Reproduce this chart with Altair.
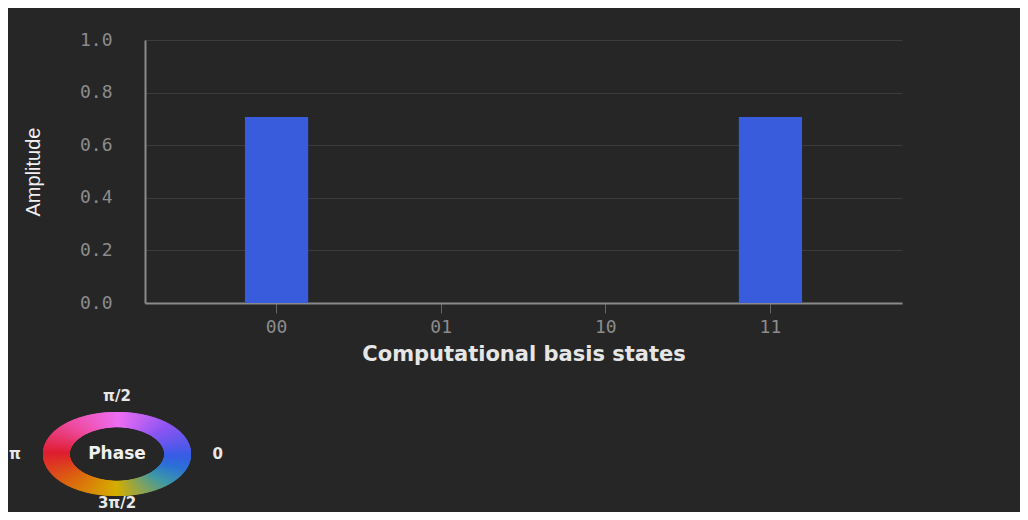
import altair as alt
import pandas as pd

# ---- data ----
states = ["00", "01", "10", "11"]
amplitudes = [0.7071, 0.0, 0.0, 0.7071]
y_ticks = [0.0, 0.2, 0.4, 0.6, 0.8, 1.0]

# phase wheel colour stops (degrees -> colour)
wheel_stops_deg = [0, 45, 90, 135, 180, 225, 270, 315, 340, 360]
wheel_colors = ["#3a5ce6", "#8c55f2", "#ee6ef2", "#ee4a9c", "#de1e30",
                "#dc6410", "#d6ae00", "#3f9aa6", "#2c72d6", "#3a5ce6"]
wheel_label_text = ["0", "π/2", "π", "3π/2"]
wheel_label_deg = [0, 90, 180, 270]
wheel_label_r = [1.36, 1.38, 1.38, 1.16]

# ---- layout constants (pixels, plot-relative) ----
PLOT_W = 757
PLOT_H = 472
BAR_H = 263
WX = [-102, 46]   # wheel x range
WY = [456, 372]   # wheel y range
INNER = 0.64

bg = "#262626"
df = pd.DataFrame({"state": states, "amp": amplitudes})

bars = alt.Chart(df).mark_bar(color="#385cdc").encode(
    x=alt.X("state:N", sort=states,
            scale=alt.Scale(paddingInner=0.616, paddingOuter=0.607),
            axis=alt.Axis(title="Computational basis states", labelAngle=0,
                          offset=-(PLOT_H - BAR_H), grid=False,
                          domainColor="#8a8a8a", domainWidth=2,
                          tickColor="#666666", tickSize=10, tickWidth=1,
                          labelFont="DejaVu Sans Mono", labelFontSize=18,
                          labelColor="#8c8c8c", labelPadding=5,
                          titleFont="DejaVu Sans", titleFontSize=21,
                          titleFontWeight="bold", titleColor="#e6e6e6",
                          titlePadding=7)),
    y=alt.Y("amp:Q",
            scale=alt.Scale(domain=[0, 1], range=[BAR_H, 0]),
            axis=alt.Axis(title="Amplitude", values=y_ticks, format=".1f",
                          ticks=False, domainColor="#8a8a8a", domainWidth=2,
                          grid=True, gridColor="#3c3c3c", gridWidth=1,
                          labelFont="DejaVu Sans Mono", labelFontSize=18,
                          labelColor="#8c8c8c", labelPadding=33,
                          titleFont="Liberation Sans", titleFontSize=20,
                          titleFontWeight="normal", titleColor="#f0f0f0",
                          titleX=-112, titleY=BAR_H / 2, titleAngle=270,
                          titleAlign="center", titleBaseline="middle")),
)

xs = alt.Scale(domain=[-1, 1], range=WX)
ys = alt.Scale(domain=[-1, 1], range=WY)

ring = alt.Chart(alt.sequence(0, 360, 0.75, as_="deg")).transform_calculate(
    xo="cos(datum.deg*PI/180)",
    yo="sin(datum.deg*PI/180)",
    xi=f"{INNER}*cos(datum.deg*PI/180)",
    yi=f"{INNER}*sin(datum.deg*PI/180)",
).mark_rule(strokeWidth=2.5).encode(
    x=alt.X("xo:Q", scale=xs, axis=None),
    y=alt.Y("yo:Q", scale=ys, axis=None),
    x2="xi:Q",
    y2="yi:Q",
    color=alt.Color("deg:Q", scale=alt.Scale(domain=wheel_stops_deg,
                                             range=wheel_colors,
                                             interpolate="rgb"),
                    legend=None),
)

lab_df = pd.DataFrame({"t": wheel_label_text, "deg": wheel_label_deg,
                       "r": wheel_label_r})
labels = alt.Chart(lab_df).transform_calculate(
    lx="datum.r*cos(datum.deg*PI/180)",
    ly="datum.r*sin(datum.deg*PI/180)",
).mark_text(font="DejaVu Sans", fontSize=15, fontWeight="bold",
            color="#e8e8e8", align="center", baseline="middle").encode(
    x=alt.X("lx:Q", scale=xs, axis=None),
    y=alt.Y("ly:Q", scale=ys, axis=None),
    text="t:N",
)

phase = alt.Chart(pd.DataFrame({"t": ["Phase"], "px": [0], "py": [0]})).mark_text(
    font="DejaVu Sans", fontSize=17, fontWeight="bold", color="#f0f0f0",
    align="center", baseline="middle").encode(
    x=alt.X("px:Q", scale=xs, axis=None),
    y=alt.Y("py:Q", scale=ys, axis=None),
    text="t:N",
)

chart = alt.layer(bars, ring, labels, phase).resolve_scale(
    x="independent", y="independent", color="independent"
).properties(
    width=PLOT_W, height=PLOT_H,
    autosize=alt.AutoSizeParams(type="none"),
    padding={"left": 137, "top": 32, "right": 118, "bottom": 0},
    background=bg,
).configure_view(stroke=None)

chart.save("out.html", embed_options={"renderer": "svg", "actions": False})
